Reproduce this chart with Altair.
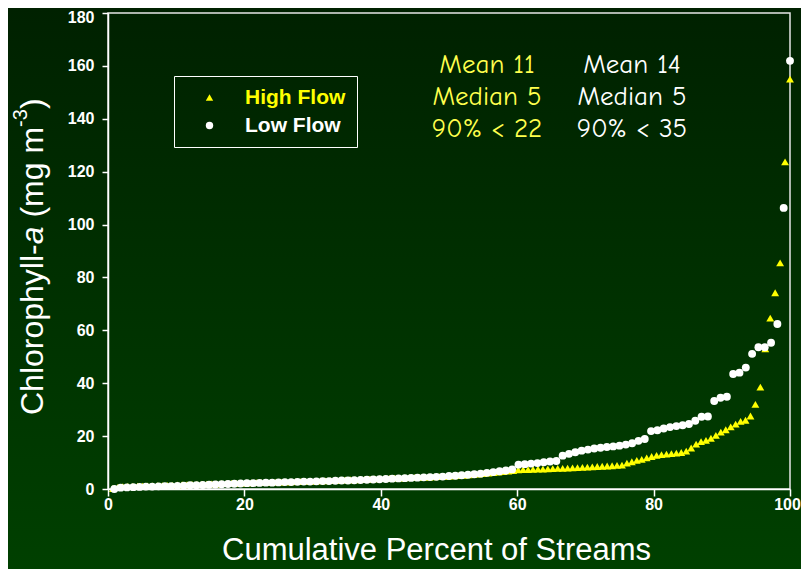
import altair as alt
import pandas as pd

series_names = ["High Flow", "Low Flow"]
series_colors = ["#FFFF00", "#FFFFFF"]
series_shapes = ["triangle-up", "circle"]

# sorted chlorophyll-a values (mg m-3), one per stream
high_flow = [0.2, 0.6, 0.9,
             1.0, 1.0, 1.1, 1.1, 1.2, 1.2, 1.3, 1.3, 1.4, 1.4, 1.5,
             1.6, 1.6, 1.7, 1.7, 1.8, 1.8, 1.9, 1.9, 2.0, 2.0, 2.1, 2.1, 2.2, 2.3,
             2.3, 2.4, 2.4, 2.5, 2.5, 2.6, 2.6, 2.7, 2.7, 2.8, 2.8, 2.9, 3.0,
             3.0, 3.1, 3.1, 3.2, 3.3, 3.3, 3.4, 3.5, 3.5, 3.6, 3.7, 3.7, 3.8, 3.9,
             3.9, 4.0, 4.1, 4.1, 4.2, 4.3, 4.3, 4.4, 4.5, 4.5, 4.6, 4.7, 4.8, 4.9,
             5.0, 5.1, 5.2, 5.4, 5.5, 5.6, 5.8, 6.0, 6.2, 6.4, 6.6, 6.8, 7.0, 7.2,
             7.3, 7.3, 7.4, 7.5, 7.5, 7.6, 7.7, 7.8, 7.8, 7.9, 8.0, 8.1, 8.2, 8.3,
             8.4, 8.5, 8.6, 8.7, 8.8, 8.9, 9.0,
             9.8, 10.3, 10.8, 11.2, 11.8, 12.3, 12.7, 13.0, 13.2, 13.4,
             13.6, 13.8, 14.3, 15.5, 17.0, 17.9, 18.4, 19.2, 20.3, 21.5,
             22.4, 23.5, 24.5, 25.6, 26.0, 27.6, 32.0, 38.5, 53.0, 64.6,
             74.2, 85.5, 123.7, 155.0]

low_flow = [0.0, 0.5,
            0.6, 0.7, 0.8, 0.9, 0.9, 1.0, 1.1,
            1.1, 1.2, 1.3, 1.4, 1.4, 1.5, 1.6, 1.7, 1.8, 1.9, 2.0, 2.1,
            2.2, 2.2, 2.3, 2.4, 2.4, 2.5, 2.6, 2.6, 2.7, 2.8, 2.8, 2.9, 3.0, 3.0,
            3.1, 3.2, 3.2, 3.3, 3.4, 3.5, 3.6, 3.7,
            3.8, 3.9, 4.0, 4.1, 4.2, 4.3, 4.4, 4.5, 4.6, 4.7, 4.9,
            5.0, 5.2, 5.4, 5.6, 5.8, 6.1, 6.4, 6.7, 7.0, 7.4,
            9.2, 9.4, 9.6, 9.8, 10.1, 10.4,
            10.6, 12.6, 13.3, 13.9, 14.5, 14.9, 15.3, 15.6, 15.9, 16.1,
            16.4, 16.8, 17.3, 18.2, 18.9, 21.9, 22.2, 22.9, 23.4, 23.8,
            24.1, 24.6, 25.8, 27.3, 27.4, 33.3, 34.5, 34.9, 43.5, 44.0,
            45.9, 51.1, 53.6, 53.6, 55.3, 62.4, 106.3, 161.9]

x_ticks = [0, 20, 40, 60, 80, 100]
y_ticks = [0, 20, 40, 60, 80, 100, 120, 140, 160, 180]

stats_high = ["Mean 11", "Median 5", "90% < 22"]
stats_low = ["Mean 14", "Median 5", "90% < 35"]

x_title = "Cumulative Percent of Streams"
y_title_parts = ["Chlorophyll-", "a", "(mg m", "-3", ")"]

# ---- build table: cumulative percent = rank / n * 100
rows = []
for name, vals in zip(series_names, [high_flow, low_flow]):
    n = len(vals)
    for i, v in enumerate(vals):
        rows.append({"series": name, "pct": (i + 1) * 100.0 / n, "chl": v})
df = pd.DataFrame(rows)

W, H = 682, 476
one = pd.DataFrame({"k": [0]})
FONT = "Liberation Sans"

bg = alt.Chart(one).mark_rect(
    fill=alt.LinearGradient(
        gradient="linear", x1=0, x2=0, y1=0, y2=1,
        stops=[alt.GradientStop(color="#002100", offset=0),
               alt.GradientStop(color="#004000", offset=1)],
    ),
).encode(x=alt.value(-100), x2=alt.value(W + 11), y=alt.value(-5), y2=alt.value(H + 80))

frame = alt.Chart(one).mark_rect(
    filled=False, stroke="#E6E6E6", strokeWidth=1.5
).encode(x=alt.value(0), x2=alt.value(W), y=alt.value(0), y2=alt.value(H))

legend = alt.Legend(
    title=None, orient="none", legendX=66, legendY=63,
    strokeColor="#FFFFFF", padding=11, rowPadding=6,
    labelFont=FONT, labelFontWeight="bold", labelFontSize=21,
    labelColor=alt.ExprRef("datum.value == 'High Flow' ? '#FFFF00' : '#FFFFFF'"),
    symbolSize=55, symbolOffset=14, labelOffset=25, symbolStrokeWidth=0,
)

points = alt.Chart(df).mark_point(filled=True, size=62, opacity=1).encode(
    x=alt.X("pct:Q", scale=alt.Scale(domain=[0, 100], nice=False),
            axis=alt.Axis(values=x_ticks, format="d", title=x_title, grid=False,
                          labelFont=FONT, labelFontWeight="bold", labelFontSize=16,
                          labelColor="white", labelFlush=False, labelPadding=0,
                          labelOffset={"condition": {"test": "datum.value == 100", "value": -3},
                                       "value": 0},
                          tickColor="white", tickSize=7, tickWidth=1.5,
                          domainColor="white", domainWidth=1.5,
                          titleFont=FONT, titleFontSize=31, titleFontWeight="normal",
                          titleColor="white", titlePadding=23, titleX=W / 2 - 13,
                          zindex=1)),
    y=alt.Y("chl:Q", scale=alt.Scale(domain=[0, 180], nice=False),
            axis=alt.Axis(values=y_ticks, format="d", title=None, grid=False,
                          labelFont=FONT, labelFontWeight="bold", labelFontSize=16,
                          labelColor="white", labelPadding=8,
                          labelOffset={"condition": {"test": "datum.value == 180", "value": 4},
                                       "value": 0},
                          tickColor="white", tickSize=6, tickWidth=1.5,
                          domainColor="white", domainWidth=1.5, zindex=1)),
    color=alt.Color("series:N", scale=alt.Scale(domain=series_names, range=series_colors),
                    legend=legend),
    shape=alt.Shape("series:N", scale=alt.Scale(domain=series_names, range=series_shapes),
                    legend=legend),
)

# y-axis title in pieces (italic "a", superscript "-3")
yx = -75
ytitle = [
    alt.Chart(one).mark_text(text=y_title_parts[0], angle=270, align="left", baseline="middle",
                             font=FONT, fontSize=32, color="white")
    .encode(x=alt.value(yx), y=alt.value(402)),
    alt.Chart(one).mark_text(text=y_title_parts[1], angle=270, align="left", baseline="middle",
                             font=FONT, fontSize=32, fontStyle="italic", color="white")
    .encode(x=alt.value(yx), y=alt.value(231.3)),
    alt.Chart(one).mark_text(text=y_title_parts[2], angle=270, align="left", baseline="middle",
                             font=FONT, fontSize=32, color="white")
    .encode(x=alt.value(yx), y=alt.value(204.6)),
    alt.Chart(one).mark_text(text=y_title_parts[3], angle=270, align="left", baseline="middle",
                             font=FONT, fontSize=20, color="white")
    .encode(x=alt.value(yx - 12), y=alt.value(113.9)),
    alt.Chart(one).mark_text(text=y_title_parts[4], angle=270, align="left", baseline="middle",
                             font=FONT, fontSize=32, color="white")
    .encode(x=alt.value(yx), y=alt.value(96.1)),
]

stat_font = "Comic Sans MS, Comic Neue, DejaVu Sans"
stats = []
for k in range(3):
    stats.append(alt.Chart(one).mark_text(text=stats_high[k], align="center", baseline="middle",
                                          font=stat_font, fontSize=27, color="#FFFF4D")
                 .encode(x=alt.value(379), y=alt.value(52 + 32 * k)))
    stats.append(alt.Chart(one).mark_text(text=stats_low[k], align="center", baseline="middle",
                                          font=stat_font, fontSize=27, color="#FFFFFF")
                 .encode(x=alt.value(524), y=alt.value(52 + 32 * k)))

chart = alt.layer(bg, frame, points, *ytitle, *stats).properties(
    width=W, height=H,
    autosize=alt.AutoSizeParams(type="none"),
    padding={"left": 100, "top": 5, "right": 11, "bottom": 80},
    background="#002a00",
).configure_view(stroke=None)

chart.save("out.html", embed_options={"renderer": "svg", "actions": False})
